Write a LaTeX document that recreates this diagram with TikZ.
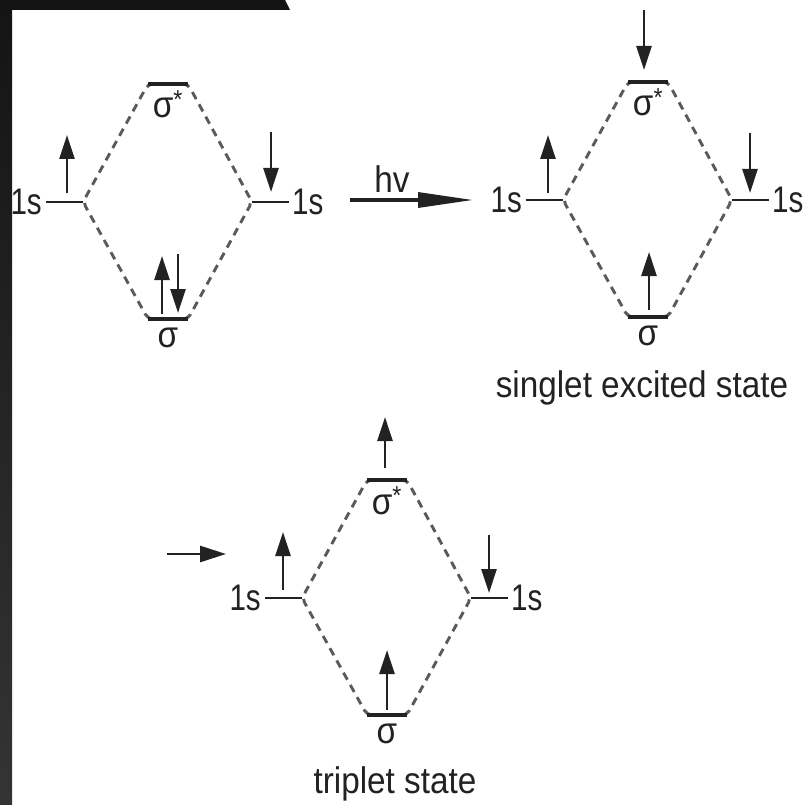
\documentclass[tikz,border=0pt]{standalone}
\usepackage{fontspec}
\setmainfont{Liberation Sans}[FakeStretch=0.9]
\newfontfamily\narrowsans{Liberation Sans}[FakeStretch=0.8]
\usetikzlibrary{arrows.meta,calc}

\definecolor{ink}{HTML}{222222}
\definecolor{dashgray}{HTML}{5A5A5A}
\definecolor{frameA}{HTML}{141414}
\definecolor{frameB}{HTML}{343434}

\tikzset{
  lvl/.style={draw=ink, line width=3.2pt},
  orb/.style={draw=ink, line width=2.2pt},
  mix/.style={draw=dashgray, line width=2.9pt, dash pattern=on 8pt off 6pt,
              rounded corners=5pt},
  spin/.style={draw=ink, line width=2.7pt, -{Triangle[length=24pt,width=15pt]}},
  photon/.style={draw=ink, line width=3.2pt, -{Triangle[length=55pt,width=15pt]}},
  pointer/.style={draw=ink, line width=2.7pt, -{Triangle[length=26pt,width=16pt]}},
  lbl/.style={inner sep=0pt, font=\fontsize{37}{40}\selectfont, text=ink},
  numlbl/.style={lbl, font=\narrowsans\fontsize{37}{40}\selectfont},
  % one MO diagram: two 1s levels combining into sigma and sigma*
  modiag/.pic={
    \coordinate (-sa) at (-20,-118);
    \coordinate (-sb) at (20,-118);
    \coordinate (-pa) at (-20,117);
    \coordinate (-pb) at (20,117);
    \coordinate (-la) at (-122,0);
    \coordinate (-lb) at (-85,0);
    \coordinate (-ra) at (84,0);
    \coordinate (-rb) at (121,0);
    \coordinate (-lm) at (-101,0);
    \coordinate (-rm) at (103,0);
    \coordinate (-top) at (0,-118);
    \coordinate (-bot) at (0,117);
    \path[mix] ($(-sa)+(6,0)$) -- (-sa) -- (-lb) -- (-pa) -- ($(-pa)+(6,0)$);
    \path[mix] ($(-sb)+(-6,0)$) -- (-sb) -- (-ra) -- (-pb) -- ($(-pb)+(-6,0)$);
    \path[lvl] (-sa) -- (-sb);
    \path[lvl] (-pa) -- (-pb);
    \path[orb] (-la) -- (-lb);
    \path[orb] (-ra) -- (-rb);
    \node[lbl, anchor=base] (-sstar) at (0,-84) {σ\textsuperscript{*}};
    \node[lbl, anchor=base] (-sig) at (0,145) {σ};
    \node[numlbl, anchor=base east] (-l1s) at (-126,12) {1s};
    \node[numlbl, anchor=base west] (-r1s) at (124,12) {1s};
  }
}

\begin{document}
\begin{tikzpicture}[x=1pt, y=-1pt]
  \useasboundingbox (0,0) rectangle (805,805);
  \fill[white] (0,0) rectangle (805,805);
  \shade[top color=frameA, bottom color=frameB]
    (0,0) -- (285,0) -- (290,10) -- (12,10) -- (12,805) -- (0,805) -- cycle;

  % ground state
  \pic (A) at (168,202) {modiag};
  \draw[spin] ($(A-lm)+(0,-9)$) -- ($(A-lm)+(0,-67)$);
  \draw[spin] ($(A-rm)+(0,-70)$) -- ($(A-rm)+(0,-10)$);
  \draw[spin] ($(A-bot)+(-6,-5)$) -- ($(A-bot)+(-6,-63)$);
  \draw[spin] ($(A-bot)+(10,-65)$) -- ($(A-bot)+(10,-6)$);

  % excitation
  \coordinate (hvA) at (350,200);
  \coordinate (hvB) at (473,200);
  \draw[photon] (hvA) -- (hvB);
  \node[lbl, anchor=base] (hv) at (392,193) {hv};

  % singlet excited state
  \pic (B) at (648,200) {modiag};
  \draw[spin] ($(B-top)+(-4,-72)$) -- ($(B-top)+(-4,-12)$);
  \draw[spin] ($(B-lm)+(1,-7)$) -- ($(B-lm)+(1,-65)$);
  \draw[spin] ($(B-rm)+(-1,-67)$) -- ($(B-rm)+(-1,-7)$);
  \draw[spin] ($(B-bot)+(1,-7)$) -- ($(B-bot)+(1,-65)$);
  \node[lbl, anchor=base] (cap1) at (642,397) {singlet excited state};

  % triplet state
  \pic (C) at (387,598) {modiag};
  \draw[spin] ($(C-top)+(-2,-12)$) -- ($(C-top)+(-2,-63)$);
  \draw[spin] ($(C-lm)+(-3,-8)$) -- ($(C-lm)+(-3,-66)$);
  \draw[spin] ($(C-rm)+(-1,-63)$) -- ($(C-rm)+(-1,-5)$);
  \draw[spin] ($(C-bot)+(0,-5)$) -- ($(C-bot)+(0,-65)$);
  \coordinate (tA) at (167,554);
  \coordinate (tB) at (226,554);
  \draw[pointer] (tA) -- (tB);
  \node[lbl, anchor=base] (cap2) at (395,793) {triplet state};
\end{tikzpicture}
\end{document}
